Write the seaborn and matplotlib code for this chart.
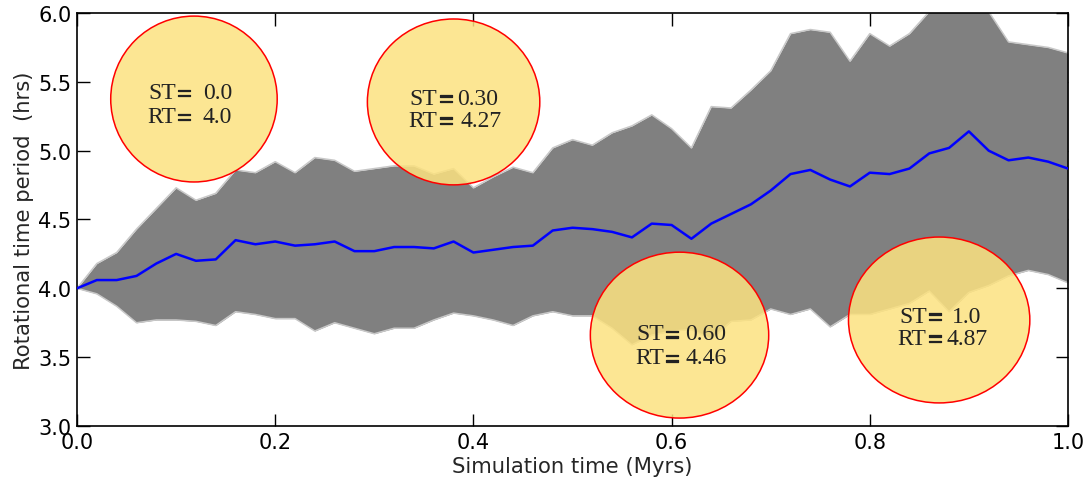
import numpy as np
import pandas as pd
import matplotlib
matplotlib.use("Agg")
import matplotlib.pyplot as plt
import matplotlib.patheffects as pe
from matplotlib.patches import Ellipse
import seaborn as sns

# ---- data ----
time_myr = [round(0.02 * i, 2) for i in range(51)]
mean_period = [4.00, 4.06, 4.06, 4.09, 4.18, 4.25, 4.20, 4.21, 4.35, 4.32,
               4.34, 4.31, 4.32, 4.34, 4.27, 4.27, 4.30, 4.30, 4.29, 4.34,
               4.26, 4.28, 4.30, 4.31, 4.42, 4.44, 4.43, 4.41, 4.37, 4.47,
               4.46, 4.36, 4.47, 4.54, 4.61, 4.71, 4.83, 4.86, 4.79, 4.74,
               4.84, 4.83, 4.87, 4.98, 5.02, 5.14, 5.00, 4.93, 4.95, 4.92,
               4.87]
upper_period = [4.00, 4.18, 4.26, 4.43, 4.58, 4.73, 4.64, 4.69, 4.86, 4.84,
                4.92, 4.84, 4.95, 4.93, 4.85, 4.87, 4.89, 4.89, 4.83, 4.87,
                4.73, 4.81, 4.88, 4.84, 5.02, 5.08, 5.04, 5.13, 5.18, 5.26,
                5.16, 5.02, 5.32, 5.31, 5.44, 5.58, 5.85, 5.88, 5.86, 5.65,
                5.85, 5.76, 5.85, 6.01, 6.10, 6.15, 6.01, 5.79, 5.77, 5.75,
                5.71]
lower_period = [4.00, 3.96, 3.87, 3.75, 3.77, 3.77, 3.76, 3.73, 3.83, 3.81,
                3.78, 3.78, 3.69, 3.75, 3.71, 3.67, 3.71, 3.71, 3.77, 3.82,
                3.80, 3.77, 3.73, 3.80, 3.83, 3.80, 3.80, 3.71, 3.59, 3.66,
                3.69, 3.70, 3.63, 3.76, 3.77, 3.85, 3.81, 3.85, 3.72, 3.81,
                3.81, 3.85, 3.89, 3.98, 3.83, 3.97, 4.02, 4.09, 4.13, 4.10,
                4.04]

bubble_st = ["0.0", "0.30", "0.60", "1.0"]
bubble_rt = ["4.0", "4.27", "4.46", "4.87"]
bubble_x = [0.118, 0.380, 0.608, 0.870]
bubble_y = [5.375, 5.354, 3.66, 3.77]

x_ticks = [0.0, 0.2, 0.4, 0.6, 0.8, 1.0]
y_ticks = [3.0, 3.5, 4.0, 4.5, 5.0, 5.5, 6.0]

# ---- layout (not data) ----
bubble_w = [0.168, 0.174, 0.180, 0.183]
bubble_h = [1.205, 1.205, 1.205, 1.205]
eq_dx_px = [-9.5, -8, -7, -4]        # horizontal offset of the "=" column
val_dx_px = [(18.5, 18.5), (12, 15), (13, 13), (17, 11.5)]
line_dy_px = [(-9, 15), (-6, 16), (-4, 20), (-6, 16)]  # cap centres
CAP_HALF = 7.6                        # px, half cap height at 17 pt
EQ_DROP = 4.0                         # px, lowers the "=" onto the cap centre
PT = 0.72                             # px -> pt at 100 dpi

df = pd.DataFrame({"t": time_myr, "mean": mean_period,
                   "up": upper_period, "lo": lower_period})

sns.set_theme(style="ticks")
plt.rcParams["font.family"] = ["DejaVu Sans"]

fig = plt.figure(figsize=(10.88, 4.81), dpi=100)
ax = fig.add_axes([0.0708, 0.1123, 0.9108, 0.8586])

ax.fill_between(df["t"], df["lo"], df["up"], color="#808080", lw=0, zorder=1)
sns.lineplot(data=df, x="t", y="up", color="#c8c8c8", lw=1.1, ax=ax, zorder=2)
sns.lineplot(data=df, x="t", y="lo", color="#c8c8c8", lw=1.1, ax=ax, zorder=2)
sns.lineplot(data=df, x="t", y="mean", color="blue", lw=1.8, ax=ax, zorder=3)

face = (252/255, 226/255, 128/255, 0.85)
tcol = "#222222"
serif = ["Liberation Serif"]
for i, (st, rt, bx, by) in enumerate(zip(bubble_st, bubble_rt,
                                         bubble_x, bubble_y)):
    e = Ellipse((bx, by), bubble_w[i], bubble_h[i], facecolor=face,
                edgecolor="red", lw=1.1, zorder=5)
    ax.add_patch(e)
    ex = eq_dx_px[i]
    for name, val, dy, vdx in zip(["ST", "RT"], [st, rt], line_dy_px[i],
                                  val_dx_px[i]):
        oy = -(dy + CAP_HALF) * PT
        ax.annotate(name, (bx, by), xytext=((ex - 8.5) * PT, oy),
                    textcoords="offset points", ha="right", va="baseline",
                    fontsize=17, color=tcol, family=serif, zorder=6)
        ax.annotate("=", (bx, by),
                    xytext=(ex * PT, -(dy + 1 + EQ_DROP) * PT),
                    textcoords="offset points", ha="center", va="center",
                    fontsize=18.5, fontweight="bold", color=tcol,
                    family=serif, zorder=6,
                    path_effects=[pe.withStroke(linewidth=0.9,
                                                foreground=tcol)])
        ax.annotate(val, (bx, by), xytext=((ex + vdx) * PT, oy),
                    textcoords="offset points", ha="left", va="baseline",
                    fontsize=17, color=tcol, family=serif, zorder=6)

ax.set_xlim(0, 1.0)
ax.set_ylim(3.0, 6.0)
ax.set_xticks(x_ticks)
ax.set_yticks(y_ticks)
ax.set_xticklabels([f"{v:.1f}" for v in x_ticks])
ax.set_yticklabels([f"{v:.1f}" for v in y_ticks])
ax.tick_params(direction="in", length=9, width=1, top=True, right=True,
               labelsize=15, colors="black", pad=4)
for sp in ax.spines.values():
    sp.set_visible(True)
    sp.set_color("black")
    sp.set_linewidth(1.2)
ax.set_xlabel("Simulation time (Myrs)", fontsize=15.2, labelpad=3)
ax.set_ylabel("Rotational time period  (hrs)", fontsize=15.2, labelpad=3)

fig.savefig("out.png", dpi=100)
